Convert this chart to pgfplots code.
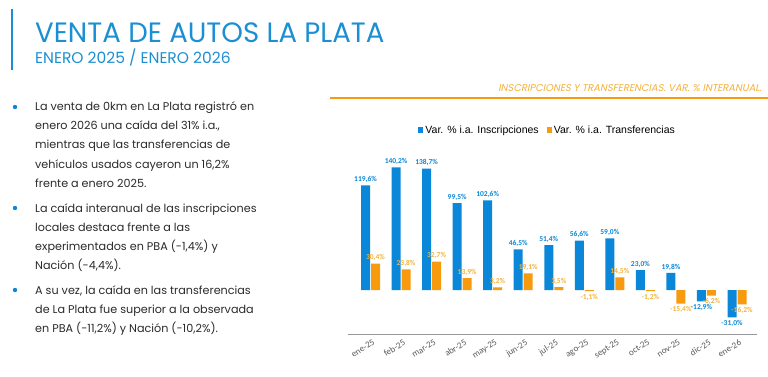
\documentclass[border=0pt]{standalone}
\usepackage{pgfplots}
\pgfplotsset{compat=1.18}
\usepackage{fontspec}
\setmainfont{Poppins}
\newfontfamily\arialf{Liberation Sans}
\newfontfamily\calib{Carlito}
\newfontfamily\popit[FakeSlant=0.2]{Poppins}
\definecolor{tblue}{HTML}{1B8FD2}
\definecolor{bblue}{HTML}{0A87D9}
\definecolor{borange}{HTML}{F79A0E}
\definecolor{lorange}{HTML}{F2B23C}
\definecolor{txt}{HTML}{2A2A2A}
\definecolor{tick}{HTML}{595959}
\begin{document}
\begin{tikzpicture}
\path[use as bounding box] (0,0) rectangle (768pt,-377pt);
\begin{scope}[x=1pt,y=-1pt]
\draw[tblue, line width=1.2pt] (12,9) -- (12,70);
\node[anchor=base west, inner sep=0, text=tblue, font=\fontsize{28}{30}\selectfont] at (35,43) {\scalebox{0.985}[1]{VENTA DE AUTOS LA PLATA}};
\node[anchor=base west, inner sep=0, text=tblue, font=\fontsize{15.5}{17}\selectfont] at (35,64) {ENERO 2025 / ENERO 2026};
\node[anchor=base east, inner sep=0, text=lorange, font=\popit\fontsize{9.9}{11}\selectfont] at (762,92) {INSCRIPCIONES Y TRANSFERENCIAS. VAR. \% INTERANUAL.};
\draw[borange, line width=1.2pt] (330,98) -- (768,98);
\foreach \yy in {107,208,290} {\fill[bblue] (15,\yy) circle (2.2pt);}
\foreach \yy/\tt in {
111/{La venta de 0km en La Plata registró en},
130/{enero 2026 una caída del 31\% i.a.,},
149/{mientras que las transferencias de},
168/{vehículos usados cayeron un 16,2\%},
187/{frente a enero 2025.},
212/{La caída interanual de las inscripciones},
231/{locales destaca frente a las},
250/{experimentados en PBA (-1,4\%) y},
269/{Nación (-4,4\%).},
294/{A su vez, la caída en las transferencias},
313/{de La Plata fue superior a la observada},
332/{en PBA (-11,2\%) y Nación (-10,2\%).}}
{\node[anchor=base west, inner sep=0, text=txt, font=\fontsize{11.2}{12}\selectfont] at (35,\yy) {\tt};}
\end{scope}
\begin{axis}[at={(348pt,-334pt)}, anchor=south west, scale only axis,
  width=409pt, height=184pt, ymin=-50, ymax=160, xmin=-0.737, xmax=12.655,
  axis x line=bottom, axis y line=none, axis line style={-, draw=gray!80, line width=0.8pt},
  ytick=\empty, xtick={0,...,12}, major tick length=0pt,
  xticklabels={ene-25,feb-25,mar-25,abr-25,may-25,jun-25,jul-25,ago-25,sept-25,oct-25,nov-25,dic-25,ene-26},
  xticklabel style={rotate=32, anchor=north east, inner sep=1pt, yshift=-4pt, font=\calib\fontsize{9}{10}\selectfont, text=tick},
  ybar=1pt, bar width=9pt,
  nodes near coords={\pgfmathprintnumber{\pgfplotspointmeta}\%},
  every node near coord/.append style={font=\calib\bfseries\fontsize{7.5}{8}\selectfont, inner sep=2.5pt},
  /pgf/number format/.cd, fixed, fixed zerofill, precision=1, use comma, 1000 sep={}, assume math mode=true, /pgfplots/.cd,
  legend style={draw=none, fill=none, at={(0.488,1.109)}, anchor=center, legend columns=2,
    font=\arialf\fontsize{10.5}{12}\selectfont, /tikz/every even column/.append style={column sep=6pt}},
  legend image code/.code={\fill[#1] (0pt,-2.6pt) rectangle (5.2pt,2.6pt);},
  clip=false]
\addplot[fill=bblue, draw=none, every node near coord/.append style={text=bblue}] coordinates {
(0,119.6) (1,140.2) (2,138.7) (3,99.5) (4,102.6) (5,46.5) (6,51.4) (7,56.6) (8,59.0) (9,23.0) (10,19.8) (11,-12.9) (12,-31.0)};
\addplot[fill=borange, draw=none, every node near coord/.append style={text=lorange}] coordinates {
(0,30.4) (1,23.8) (2,32.7) (3,13.9) (4,3.2) (5,19.1) (6,3.5) (7,-1.1) (8,14.5) (9,-1.2) (10,-15.4) (11,-6.2) (12,-16.2)};
\legend{Var. \% i.a. Inscripciones, Var. \% i.a. Transferencias}
\end{axis}
\end{tikzpicture}
\end{document}
